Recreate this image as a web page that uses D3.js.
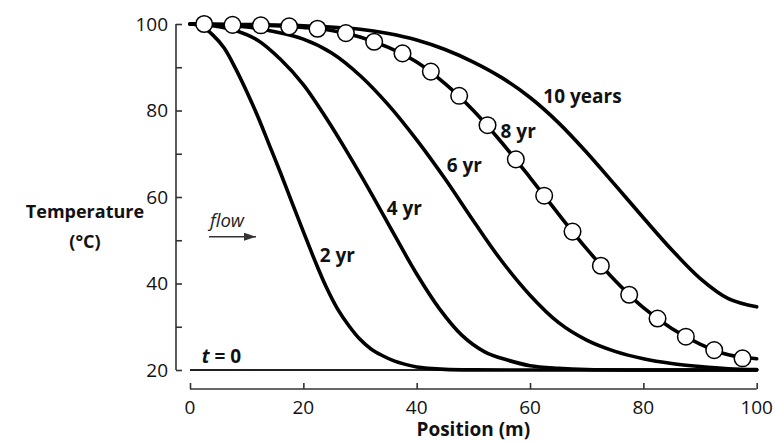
<!DOCTYPE html>
<html>
<head>
<meta charset="utf-8">
<script src="https://cdn.jsdelivr.net/npm/d3@7/dist/d3.min.js"></script>
<style>
  html, body { margin: 0; padding: 0; background: #fff; }
  svg { display: block; font-family: "Open Sans", "DejaVu Sans", sans-serif; }
</style>
</head>
<body>
<svg id="chart" width="777" height="442"></svg>
<script>
// ---- data ----
const xTicks = [0, 20, 40, 60, 80, 100];
const yTicksMajor = [20, 40, 60, 80, 100];
const yTicksMinor = [30, 50, 70, 90];

const t0X = [0, 100];
const t0T = [20, 20];

const yr2X = [0, 2, 4, 6, 8, 10, 12, 14, 16, 18, 20, 22, 24, 26, 28, 30, 32, 34, 36, 38, 40, 42, 45, 50, 60, 100];
const yr2T = [100, 99.5, 97.5, 94.5, 89.8, 84.4, 78.5, 72, 65.5, 58.7, 52, 45.4, 39.3, 34.2, 30.3, 27.1, 24.8, 23.3, 22.1, 21.3, 20.7, 20.4, 20.15, 20.03, 20, 20];

const yr4X = [0, 4, 8, 12, 16, 20, 24, 28, 32, 36, 40, 44, 48, 52, 56, 60, 65, 70, 80, 100];
const yr4T = [100, 99.6, 98.5, 96.2, 91.8, 86, 78.3, 69.8, 60.8, 51.4, 42.2, 34.2, 28, 24.2, 22.3, 21, 20.4, 20.1, 20, 20];

const yr6X = [0, 5, 10, 15, 20, 25, 30, 35, 40, 45, 50, 55, 60, 65, 70, 75, 80, 85, 90, 95, 100];
const yr6T = [100, 99.8, 99.3, 98.2, 96.5, 93.3, 88.1, 81.3, 73.2, 64.2, 54.5, 45.2, 37.3, 31.0, 26.9, 24.3, 22.6, 21.5, 20.8, 20.3, 20.1];

const yr8X = [0, 5, 10, 15, 20, 25, 30, 35, 40, 45, 50, 55, 60, 65, 70, 75, 80, 85, 90, 95, 100];
const yr8T = [100, 99.9, 99.75, 99.6, 99.2, 98.5, 97, 94.6, 91.2, 86.2, 80, 72.6, 64.5, 56.1, 48, 40.7, 34.4, 29.6, 26, 23.5, 22.6];

const yr10X = [0, 10, 20, 30, 35, 40, 45, 50, 55, 60, 65, 70, 75, 80, 85, 90, 95, 100];
const yr10T = [100, 99.9, 99.6, 98.8, 97.8, 96.3, 94.1, 91.2, 87.6, 83, 77.2, 70.3, 62.8, 55.2, 47.8, 41.2, 36.5, 34.6];

const circX = [2.5, 7.5, 12.5, 17.5, 22.5, 27.5, 32.5, 37.5, 42.5, 47.5, 52.5, 57.5, 62.5, 67.5, 72.5, 77.5, 82.5, 87.5, 92.5, 97.5];
const circT = [100, 99.8, 99.7, 99.45, 98.9, 97.9, 95.9, 93.2, 89.0, 83.4, 76.6, 68.7, 60.3, 52.0, 44.1, 37.4, 31.9, 27.7, 24.6, 22.7];

// ---- drawing ----
const svg = d3.select("#chart");
const x = d3.scaleLinear().domain([0, 100]).range([190, 756.7]);
const y = d3.scaleLinear().domain([20, 100]).range([370, 24]);

const axisColor = "#333";
const tickFont = 19;

// Y axis (offset, ticks pointing inward)
const yAxis = d3.axisRight(y).tickValues(yTicksMajor.concat(yTicksMinor)).tickSize(6).tickFormat("");
const gy = svg.append("g").attr("transform", "translate(176,0)").call(yAxis);
gy.select(".domain").attr("d", `M0,${y(100)}V${y(20)}`).attr("stroke", axisColor).attr("stroke-width", 1.6);
gy.selectAll(".tick line").attr("stroke", axisColor).attr("stroke-width", 1.6);
svg.append("g").selectAll("text").data(yTicksMajor).join("text")
  .attr("x", 168).attr("y", d => y(d)).attr("dy", "0.36em")
  .attr("text-anchor", "end").attr("font-size", tickFont).attr("fill", "#111")
  .text(d => d);

// X axis (offset below, ticks pointing up)
const xAxis = d3.axisTop(x).tickValues(xTicks).tickSize(6).tickFormat("");
const gx = svg.append("g").attr("transform", "translate(0,389)").call(xAxis);
gx.select(".domain").attr("d", `M${x(0)},0H${x(100)}`).attr("stroke", axisColor).attr("stroke-width", 1.6);
gx.selectAll(".tick line").attr("stroke", axisColor).attr("stroke-width", 1.6);
svg.append("g").selectAll("text").data(xTicks).join("text")
  .attr("x", d => x(d)).attr("y", 414)
  .attr("text-anchor", "middle").attr("font-size", tickFont).attr("fill", "#111")
  .text(d => d);

// Axis titles
svg.append("text").attr("x", x(50)).attr("y", 435.5).attr("text-anchor", "middle")
  .attr("font-size", 19).attr("font-weight", "bold").attr("fill", "#111").text("Position (m)");
svg.append("text").attr("x", 85).attr("y", 218).attr("text-anchor", "middle")
  .attr("font-size", 18).attr("font-weight", "bold").attr("fill", "#111").text("Temperature");
svg.append("text").attr("x", 85).attr("y", 248).attr("text-anchor", "middle")
  .attr("font-size", 18).attr("font-weight", "bold").attr("fill", "#111").text("(°C)");

// Curves
const line = d3.line().x(d => x(d[0])).y(d => y(d[1])).curve(d3.curveCatmullRom.alpha(0.5));
const zip = (xs, ts) => xs.map((v, i) => [v, ts[i]]);

svg.append("path").datum(zip(t0X, t0T)).attr("d", line)
  .attr("fill", "none").attr("stroke", "#222").attr("stroke-width", 1.8);

[[yr2X, yr2T], [yr4X, yr4T], [yr6X, yr6T], [yr8X, yr8T], [yr10X, yr10T]].forEach(([xs, ts]) => {
  svg.append("path").datum(zip(xs, ts)).attr("d", line)
    .attr("fill", "none").attr("stroke", "#000").attr("stroke-width", 3.6)
    .attr("stroke-linecap", "round").attr("stroke-linejoin", "round");
});

// Model points on the 8-yr curve
svg.append("g").selectAll("circle").data(zip(circX, circT)).join("circle")
  .attr("cx", d => x(d[0])).attr("cy", d => y(d[1])).attr("r", 8.3)
  .attr("fill", "#fff").attr("stroke", "#000").attr("stroke-width", 1.5);

// Curve labels
const labels = [
  { t: "2 yr", px: 22.9, py: 45.0 },
  { t: "4 yr", px: 34.7, py: 55.8 },
  { t: "6 yr", px: 45.3, py: 65.85 },
  { t: "8 yr", px: 54.8, py: 73.7 },
  { t: "10 years", px: 62.35, py: 81.7 }
];
svg.append("g").selectAll("text").data(labels).join("text")
  .attr("x", d => x(d.px)).attr("y", d => y(d.py))
  .attr("font-size", 19).attr("font-weight", "bold").attr("fill", "#111")
  .text(d => d.t);

const t0 = svg.append("text").attr("x", x(2.06)).attr("y", y(21.7))
  .attr("font-size", 19).attr("font-weight", "bold").attr("fill", "#111");
t0.append("tspan").attr("font-style", "italic").text("t");
t0.append("tspan").text(" = 0");

// flow arrow
svg.append("text").attr("x", 210).attr("y", 227).attr("font-size", 18.5)
  .attr("font-style", "italic").attr("fill", "#222").text("flow");
svg.append("defs").append("marker").attr("id", "ah")
  .attr("viewBox", "0 0 12 8").attr("refX", 12).attr("refY", 4)
  .attr("markerWidth", 12).attr("markerHeight", 8).attr("markerUnits", "userSpaceOnUse")
  .attr("orient", "auto")
  .append("path").attr("d", "M0,0L12,4L0,8Z").attr("fill", "#333");
svg.append("line").attr("x1", 209).attr("x2", 256).attr("y1", 236.7).attr("y2", 236.7)
  .attr("stroke", "#333").attr("stroke-width", 1.6).attr("marker-end", "url(#ah)");
</script>
</body>
</html>
